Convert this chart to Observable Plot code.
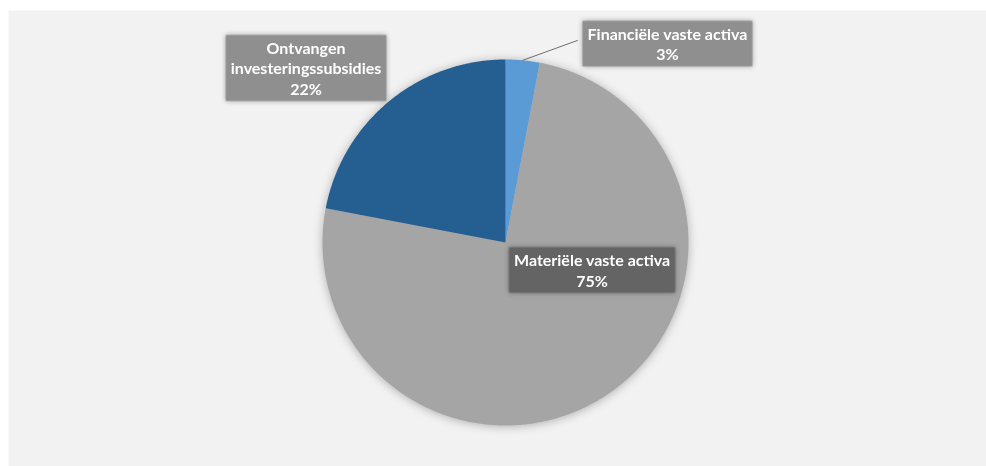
<!DOCTYPE html>
<html><head><meta charset="utf-8">
<script src="https://cdn.jsdelivr.net/npm/d3@7"></script>
<script src="https://cdn.jsdelivr.net/npm/@observablehq/plot@0.6"></script>
<style>
body{margin:0;background:#fff;}
#chart svg{display:block;}
.pie{filter:drop-shadow(0px 1px 5px rgba(0,0,0,0.28));}
.lblbox{filter:drop-shadow(0px 0px 2.5px rgba(0,0,0,0.35));}
</style></head>
<body><div id="chart"></div>
<script>
// ---- data ----
const categories = ["Financiële vaste activa", "Materiële vaste activa", "Ontvangen investeringssubsidies"];
const values = [3, 75, 22];
const percentLabels = ["3%", "75%", "22%"];
const labelNames = ["Financiële vaste activa", "Materiële vaste activa", "Ontvangen\ninvesteringssubsidies"];

// ---- style / layout ----
const sliceColors = ["#5b9bd5", "#a5a5a5", "#255e91"];
const boxColors = ["#8f8f8f", "#646464", "#8f8f8f"];
const W = 986, H = 466, CX = 505, CY = 242, R = 183;
// label centres in pie-radius units (x right, y up)
const labelX = [0.885, 0.473, -1.090];
const labelY = [1.087, -0.150, 0.954];
// leader line end for the small slice (pie-radius units)
const leaderEnd = {X: 0.393, Y: 1.104};

// ---- geometry from data ----
const total = d3.sum(values);
const slicePts = [];
const mids = [];
let acc = 0;
categories.forEach((c, i) => {
  const a0 = acc / total * 2 * Math.PI;
  acc += values[i];
  const a1 = acc / total * 2 * Math.PI;
  mids.push((a0 + a1) / 2);
  slicePts.push({cat: c, X: 0, Y: 0});
  const n = Math.max(2, Math.ceil((a1 - a0) / (Math.PI / 360)));
  for (let k = 0; k <= n; k++) {
    const a = a0 + (a1 - a0) * k / n;
    slicePts.push({cat: c, X: Math.sin(a), Y: Math.cos(a)});
  }
});
const labels = categories.map((c, i) => ({
  cat: c, X: labelX[i], Y: labelY[i], text: labelNames[i] + "\n" + percentLabels[i]
}));
const leader = [
  {X: Math.sin(mids[0]), Y: Math.cos(mids[0])},
  leaderEnd
];

const plot = Plot.plot({
  width: W, height: H,
  margin: 0,
  x: {domain: [-CX / R, (W - CX) / R], range: [0, W], axis: null},
  y: {domain: [-(H - CY) / R, CY / R], range: [H, 0], axis: null},
  color: {domain: categories, range: sliceColors},
  style: {background: "#ffffff"},
  marks: [
    Plot.frame({fill: "#f2f2f2", stroke: "none", insetLeft: 8, insetTop: 10}),
    Plot.line(slicePts, {x: "X", y: "Y", z: "cat", fill: "cat", stroke: "none", className: "pie"}),
    Plot.line(leader, {x: "X", y: "Y", stroke: "#6e6e6e", strokeWidth: 1}),
    Plot.text(labels, {
      x: "X", y: "Y", text: "text", className: "lbl",
      fill: "#ffffff", fontWeight: "bold", fontSize: 16,
      fontFamily: "Lato, 'Open Sans', sans-serif", lineHeight: 1.28,
      textAnchor: "middle"
    })
  ]
});

document.getElementById("chart").append(plot);

// add label boxes behind each text
const lblGroup = plot.querySelector("g.lbl");
if (lblGroup) {
  const texts = Array.from(lblGroup.querySelectorAll("text"));
  const ns = "http://www.w3.org/2000/svg";
  const boxG = document.createElementNS(ns, "g");
  boxG.setAttribute("class", "lblbox");
  texts.forEach((t, i) => {
    const b = t.getBBox();
    const padX = 5, padY = 3;
    const r = document.createElementNS(ns, "rect");
    r.setAttribute("x", b.x - padX);
    r.setAttribute("y", b.y - padY);
    r.setAttribute("width", b.width + 2 * padX);
    r.setAttribute("height", b.height + 2 * padY);
    r.setAttribute("fill", boxColors[i]);
    const tr = t.getAttribute("transform");
    if (tr) r.setAttribute("transform", tr);
    boxG.appendChild(r);
  });
  const gtr = lblGroup.getAttribute("transform");
  if (gtr) boxG.setAttribute("transform", gtr);
  lblGroup.parentNode.insertBefore(boxG, lblGroup);
}
</script>
</body></html>
